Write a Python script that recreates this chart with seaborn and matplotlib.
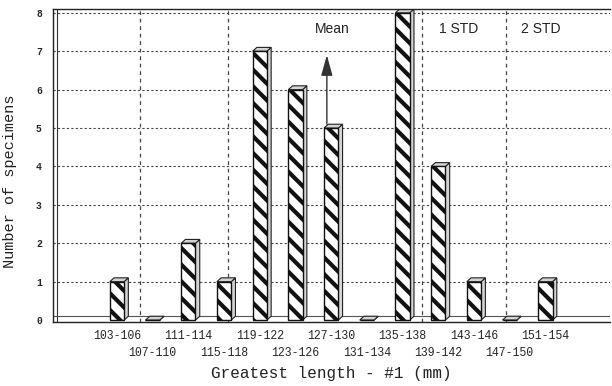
import numpy as np
import pandas as pd
import matplotlib
matplotlib.use("Agg")
import matplotlib.pyplot as plt
from matplotlib.patches import Polygon
import seaborn as sns

# Histogram of greatest length #1, 4 mm bins
ranges = ["103-106", "107-110", "111-114", "115-118", "119-122", "123-126",
          "127-130", "131-134", "135-138", "139-142", "143-146", "147-150",
          "151-154"]
counts = [1, 0, 2, 1, 7, 6, 5, 0, 8, 4, 1, 0, 1]

# Mean and standard-deviation markers, in bin units (bin 0 = 103-106)
mean_pos = 5.88
mean_arrow_top = 6.9
std_lines = [0.64, 3.1, 8.54, 10.9]
band_labels = ["Mean", "1 STD", "2 STD"]
band_label_x = [6.02, 9.58, 11.88]
band_label_y = 7.58

sns.set_style("white")
plt.rcParams["font.family"] = ["Liberation Mono", "DejaVu Sans Mono"]
plt.rcParams["hatch.color"] = "#1a1a1a"
plt.rcParams["hatch.linewidth"] = 3.0

df = pd.DataFrame({"range": ranges, "count": counts})

fig = plt.figure(figsize=(6.12, 3.86), dpi=100)
ax = fig.add_axes([53 / 612, 1 - 322 / 386, (610 - 53) / 612, (322 - 9) / 386])

sns.barplot(data=df, x="range", y="count", width=0.4, color="white",
            saturation=1, edgecolor="#111111", linewidth=1.0, ax=ax, zorder=3)

ink = "#222222"
dx, dy = 0.12, 0.1
for p in ax.patches:
    p.set_hatch("\\\\")
    x0, w, h = p.get_x(), p.get_width(), p.get_height()
    side = Polygon([(x0 + w, 0), (x0 + w + dx, dy), (x0 + w + dx, h + dy), (x0 + w, h)],
                   closed=True, facecolor="#d4d4d4", edgecolor=ink, lw=0.8, zorder=2.5)
    top = Polygon([(x0, h), (x0 + dx, h + dy), (x0 + w + dx, h + dy), (x0 + w, h)],
                  closed=True, facecolor="#d4d4d4", edgecolor=ink, lw=0.8, zorder=2.5)
    ax.add_patch(side)
    ax.add_patch(top)

ax.set_xlim(-1.79, 13.81)
ax.set_ylim(-0.05, 8.1)

# grid: dotted horizontals on the back wall, dashed std verticals
for yv in range(1, 9):
    ax.axhline(yv, color="#444444", lw=0.8, ls=(0, (2, 2)), zorder=1)
for xv in std_lines:
    ax.axvline(xv, color="#444444", lw=0.9, ls=(0, (3, 3)), zorder=1)

# floor slab and back wall edge
ax.axhline(dy, color="#555555", lw=0.8, zorder=1.5)
ax.axvline(-1.68, color="#333333", lw=0.8, zorder=1.5)

# mean arrow
ax.annotate("", xy=(mean_pos, mean_arrow_top), xytext=(mean_pos, counts[6] + dy),
            arrowprops=dict(arrowstyle="-|>,head_length=0.9,head_width=0.25",
                            color="#333333", lw=1.0, mutation_scale=14,
                            shrinkA=0, shrinkB=0), zorder=4)
for lab, xv in zip(band_labels, band_label_x):
    ax.text(xv, band_label_y, lab, ha="center", va="center", fontsize=10,
            family=["Liberation Sans", "DejaVu Sans"], color="#222222")

# axes styling
ax.spines["right"].set_visible(False)
for s in ["left", "bottom", "top"]:
    ax.spines[s].set_color(ink)
    ax.spines[s].set_linewidth(1.0)

ax.set_yticks(range(0, 9))
ax.set_yticklabels([str(v) for v in range(0, 9)], fontsize=7, fontweight="bold")
ax.tick_params(axis="y", direction="out", length=5, width=0.9, color=ink, pad=3)

# bin labels staggered on two rows: even bins on the axis, odd bins below
idx = np.arange(len(ranges))
even, odd = idx[idx % 2 == 0], idx[idx % 2 == 1]
ax.set_xticks(even)
ax.set_xticklabels([ranges[i] for i in even], fontsize=8.3)
ax.tick_params(axis="x", which="major", length=0, pad=6)
ax.set_xticks(np.arange(0.5, 12, 1.0), minor=True)
ax.tick_params(axis="x", which="minor", direction="out", length=4, width=0.9, color=ink)

sec = ax.secondary_xaxis("bottom")
sec.set_xticks(odd)
sec.set_xticklabels([ranges[i] for i in odd], fontsize=8.3)
sec.tick_params(axis="x", length=0, pad=18)
sec.spines["bottom"].set_visible(False)

ax.set_xlabel("Greatest length - #1 (mm)", fontsize=11.5, color="#222222")
ax.xaxis.set_label_coords(0.5, -0.14)
ax.set_ylabel("Number of specimens", fontsize=11, color="#222222")
ax.yaxis.set_label_coords(-0.065, 0.45)

fig.savefig("out.png", dpi=100)
